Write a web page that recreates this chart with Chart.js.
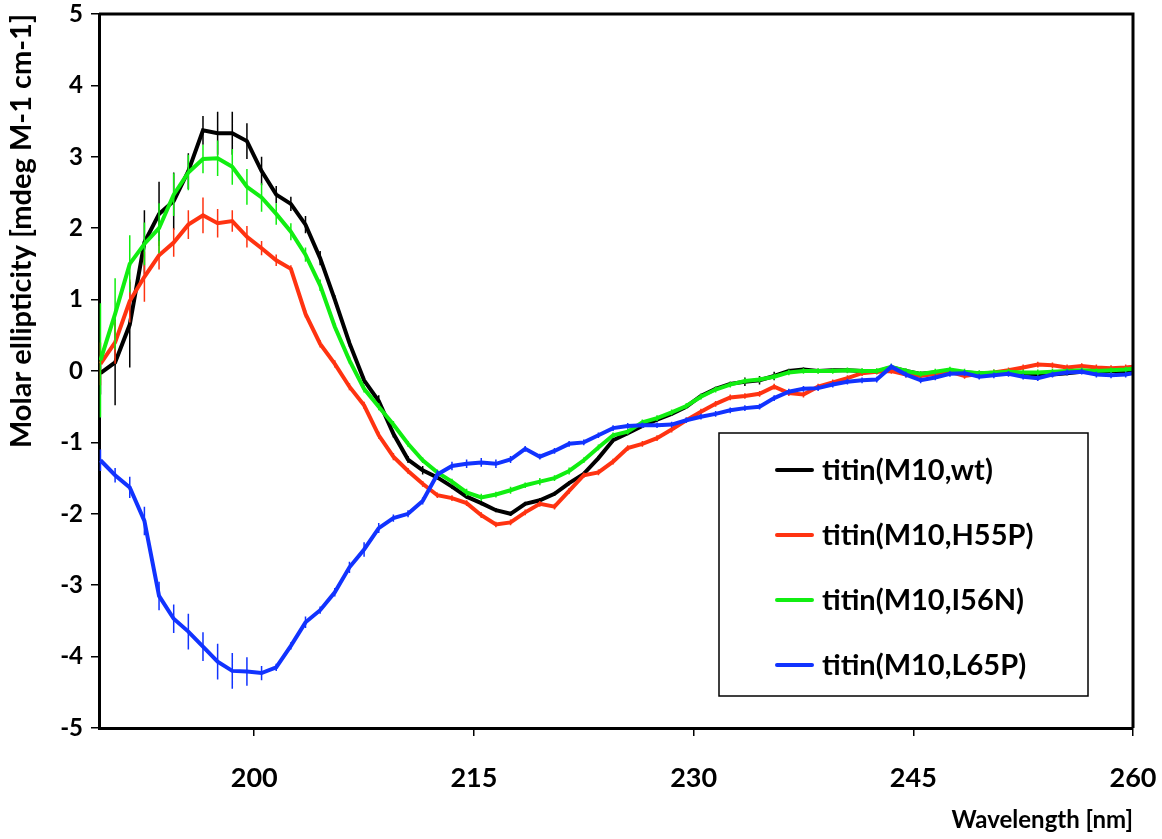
<!DOCTYPE html>
<html><head><meta charset="utf-8">
<script src="https://cdn.jsdelivr.net/npm/chart.js@4/dist/chart.umd.min.js"></script>
<style>html,body{margin:0;padding:0;background:#fff}canvas{display:block}</style>
</head><body>
<canvas id="c" width="1162" height="839"></canvas>
<script>
// ---- data ----
const wavelengths = [189.5,190.5,191.5,192.5,193.5,194.5,195.5,196.5,197.5,198.5,199.5,200.5,201.5,202.5,203.5,204.5,205.5,206.5,207.5,208.5,209.5,210.5,211.5,212.5,213.5,214.5,215.5,216.5,217.5,218.5,219.5,220.5,221.5,222.5,223.5,224.5,225.5,226.5,227.5,228.5,229.5,230.5,231.5,232.5,233.5,234.5,235.5,236.5,237.5,238.5,239.5,240.5,241.5,242.5,243.5,244.5,245.5,246.5,247.5,248.5,249.5,250.5,251.5,252.5,253.5,254.5,255.5,256.5,257.5,258.5,259.5,260];
const seriesLabels = ['titin(M10,wt)','titin(M10,H55P)','titin(M10,I56N)','titin(M10,L65P)'];
const wt = [-0.03,0.12,0.65,1.8,2.2,2.38,2.8,3.37,3.33,3.33,3.22,2.8,2.47,2.34,2.05,1.58,1.0,0.39,-0.13,-0.42,-0.88,-1.24,-1.39,-1.49,-1.62,-1.76,-1.85,-1.95,-2.0,-1.86,-1.81,-1.72,-1.57,-1.44,-1.22,-0.97,-0.87,-0.77,-0.68,-0.6,-0.5,-0.35,-0.25,-0.18,-0.15,-0.13,-0.07,0.0,0.02,0.0,0.01,0.01,0.0,-0.01,0.05,0.0,-0.04,-0.02,0.0,-0.02,-0.03,-0.03,-0.02,-0.03,-0.05,-0.05,-0.03,-0.01,0.0,0.0,0.0,0.0];
const h55p = [0.1,0.4,0.98,1.32,1.62,1.8,2.05,2.18,2.07,2.1,1.88,1.72,1.55,1.43,0.8,0.38,0.1,-0.22,-0.48,-0.9,-1.2,-1.4,-1.58,-1.74,-1.78,-1.85,-2.02,-2.15,-2.12,-1.98,-1.86,-1.9,-1.68,-1.46,-1.42,-1.27,-1.08,-1.02,-0.94,-0.82,-0.69,-0.57,-0.46,-0.37,-0.35,-0.32,-0.22,-0.31,-0.33,-0.22,-0.16,-0.1,-0.03,-0.01,0.0,-0.05,-0.07,-0.04,-0.01,-0.07,-0.04,-0.02,0.01,0.05,0.09,0.08,0.05,0.07,0.05,0.04,0.05,0.06];
const i56n = [0.15,0.8,1.5,1.78,2.0,2.47,2.78,2.97,2.98,2.86,2.58,2.43,2.2,1.95,1.63,1.2,0.62,0.15,-0.25,-0.5,-0.75,-1.02,-1.25,-1.42,-1.55,-1.7,-1.77,-1.73,-1.67,-1.6,-1.55,-1.5,-1.4,-1.25,-1.07,-0.9,-0.85,-0.72,-0.66,-0.58,-0.49,-0.36,-0.26,-0.19,-0.14,-0.12,-0.08,-0.02,0.0,0.0,0.0,0.01,0.0,0.0,0.06,0.0,-0.04,-0.01,0.02,-0.01,-0.03,-0.02,-0.01,-0.02,-0.02,-0.01,0.0,0.01,0.0,0.01,0.02,0.03];
const l65p = [-1.25,-1.46,-1.63,-2.1,-3.15,-3.47,-3.65,-3.86,-4.07,-4.2,-4.21,-4.23,-4.15,-3.85,-3.52,-3.35,-3.1,-2.75,-2.5,-2.2,-2.06,-2.0,-1.82,-1.45,-1.33,-1.3,-1.28,-1.3,-1.24,-1.09,-1.2,-1.12,-1.02,-1.0,-0.9,-0.8,-0.77,-0.76,-0.76,-0.75,-0.69,-0.64,-0.6,-0.55,-0.52,-0.5,-0.38,-0.29,-0.25,-0.24,-0.19,-0.15,-0.13,-0.12,0.06,-0.05,-0.13,-0.09,-0.04,-0.03,-0.08,-0.06,-0.04,-0.08,-0.1,-0.05,-0.02,-0.01,-0.05,-0.06,-0.05,-0.03];
const wtErr = [0.3,0.6,0.6,0.45,0.45,0.4,0.25,0.2,0.3,0.3,0.25,0.2,0.12,0.1,0.12,0.1,0.06,0.05,0.05,0.08,0.05,0.05,0.06,0.03,0.03,0.03,0.03,0.03,0.03,0.03,0.03,0.03,0.03,0.03,0.03,0.03,0.03,0.03,0.03,0.03,0.03,0.03,0.03,0.03,0.06,0.06,0.06,0.03,0.03,0.03,0.03,0.03,0.03,0.03,0.03,0.03,0.03,0.03,0.03,0.03,0.03,0.03,0.03,0.03,0.03,0.03,0.03,0.03,0.03,0.03,0.03,0.03];
const h55pErr = [0.3,0.3,0.3,0.35,0.2,0.2,0.2,0.25,0.2,0.15,0.15,0.1,0.08,0.05,0.05,0.05,0.05,0.05,0.05,0.05,0.05,0.04,0.04,0.04,0.04,0.04,0.04,0.04,0.04,0.04,0.04,0.04,0.04,0.04,0.04,0.04,0.04,0.04,0.04,0.04,0.04,0.04,0.04,0.04,0.04,0.04,0.04,0.04,0.04,0.04,0.04,0.04,0.04,0.04,0.04,0.04,0.04,0.04,0.04,0.04,0.04,0.04,0.04,0.04,0.04,0.04,0.04,0.04,0.04,0.04,0.04,0.04];
const i56nErr = [0.8,0.5,0.4,0.3,0.35,0.3,0.25,0.2,0.25,0.25,0.25,0.2,0.15,0.12,0.1,0.08,0.05,0.05,0.05,0.05,0.05,0.04,0.04,0.04,0.04,0.05,0.05,0.04,0.05,0.04,0.05,0.04,0.05,0.04,0.04,0.04,0.04,0.04,0.04,0.04,0.04,0.04,0.04,0.04,0.04,0.04,0.04,0.04,0.04,0.04,0.04,0.04,0.04,0.04,0.04,0.04,0.04,0.04,0.04,0.04,0.04,0.04,0.04,0.04,0.04,0.04,0.04,0.04,0.04,0.04,0.04,0.04];
const l65pErr = [0.15,0.1,0.15,0.2,0.2,0.2,0.25,0.2,0.25,0.25,0.2,0.1,0.05,0.05,0.08,0.05,0.06,0.08,0.1,0.07,0.05,0.05,0.05,0.06,0.06,0.06,0.06,0.06,0.05,0.04,0.04,0.04,0.04,0.04,0.04,0.04,0.04,0.04,0.04,0.04,0.04,0.04,0.04,0.04,0.04,0.04,0.04,0.04,0.04,0.04,0.04,0.04,0.04,0.04,0.04,0.04,0.04,0.04,0.04,0.04,0.04,0.04,0.04,0.04,0.04,0.04,0.04,0.04,0.04,0.04,0.04,0.04];
const xTicks = [200,215,230,245,260];
const yMin = -5, yMax = 5, yStep = 1;
const xMin = 189.4, xMax = 260;
const xTitle = 'Wavelength [nm]';
const yTitle = 'Molar ellipticity [mdeg M-1 cm-1]';

// ---- styles ----
const colors = ['#000000','#ff3311','#11ee11','#1133ff'];
const drawOrder = [4,3,2,1];
const FONT = 'Lato, "Open Sans", sans-serif';

const valueSets = [wt,h55p,i56n,l65p];
const errSets = [wtErr,h55pErr,i56nErr,l65pErr];

const datasets = valueSets.map((vals,k)=>({
  label: seriesLabels[k],
  data: wavelengths.map((x,i)=>({x:x,y:vals[i]})),
  errors: errSets[k],
  borderColor: colors[k],
  backgroundColor: colors[k],
  borderWidth: 4,
  pointRadius: 0,
  tension: 0,
  fill: false,
  order: drawOrder[k]
}));

const errorBarPlugin = {
  id: 'errorBars',
  afterDatasetDraw(chart, args) {
    const ds = chart.data.datasets[args.index];
    if (!ds.errors) return;
    const ctx = chart.ctx, ys = chart.scales.y, a = chart.chartArea;
    ctx.save();
    ctx.beginPath(); ctx.rect(a.left, a.top, a.right-a.left, a.bottom-a.top); ctx.clip();
    ctx.strokeStyle = ds.borderColor; ctx.lineWidth = 1.5;
    ctx.beginPath();
    args.meta.data.forEach((pt,i)=>{
      const v = ds.data[i].y, e = ds.errors[i];
      ctx.moveTo(pt.x, ys.getPixelForValue(v+e));
      ctx.lineTo(pt.x, ys.getPixelForValue(v-e));
    });
    ctx.stroke();
    ctx.restore();
  }
};

const framePlugin = {
  id: 'frame',
  afterDraw(chart) {
    const ctx = chart.ctx, a = chart.chartArea;
    ctx.save();
    ctx.strokeStyle = '#000'; ctx.lineWidth = 3;
    ctx.beginPath();
    ctx.moveTo(a.left, a.top); ctx.lineTo(a.right, a.top); ctx.lineTo(a.right, a.bottom);
    ctx.stroke();
    ctx.restore();
  }
};

const legendBoxPlugin = {
  id: 'legendBox',
  afterDraw(chart) {
    const ctx = chart.ctx, a = chart.chartArea;
    const bx = a.left + 620, by = a.top + 419, bw = 369, bh = 263;
    ctx.save();
    ctx.fillStyle = '#fff'; ctx.fillRect(bx, by, bw, bh);
    ctx.strokeStyle = '#000'; ctx.lineWidth = 1.5; ctx.strokeRect(bx, by, bw, bh);
    ctx.font = 'bold 29px ' + FONT;
    ctx.textBaseline = 'middle'; ctx.textAlign = 'left';
    chart.data.datasets.forEach((ds,i)=>{
      const y = by + 37 + i*65;
      ctx.strokeStyle = ds.borderColor; ctx.lineWidth = 4; ctx.lineCap = 'round';
      ctx.beginPath(); ctx.moveTo(bx+58, y); ctx.lineTo(bx+93, y); ctx.stroke();
      ctx.fillStyle = '#000';
      ctx.fillText(ds.label, bx+103, y+1);
    });
    ctx.restore();
  }
};

function draw(){
  new Chart(document.getElementById('c'), {
    type: 'line',
    data: { datasets: datasets },
    options: {
      responsive: false,
      animation: false,
      layout: { padding: { top: 14, right: 29, left: 0, bottom: 0 } },
      plugins: { legend: { display: false }, tooltip: { enabled: false } },
      scales: {
        x: {
          type: 'linear', min: xMin, max: xMax,
          afterBuildTicks: s => { s.ticks = xTicks.map(v=>({value:v})); },
          afterFit: s => { s.height = 111; s.paddingLeft = 0; s.paddingRight = 0; },
          ticks: { color:'#000', font:{family:FONT, weight:'bold', size:27}, padding: 26, maxRotation:0, autoSkip:false },
          grid: { drawOnChartArea:false, drawTicks:true, tickLength:8, color:'#000', lineWidth:1.5 },
          border: { display:true, color:'#000', width:3 },
          title: { display:true, text:xTitle, align:'end', color:'#000', font:{family:FONT, weight:'bold', size:24}, padding:{top:0,bottom:4} }
        },
        y: {
          type: 'linear', min: yMin, max: yMax,
          afterFit: s => { s.width = 99; s.paddingTop = 0; s.paddingBottom = 0; },
          ticks: { stepSize: yStep, color:'#000', font:{family:FONT, weight:'bold', size:24}, padding: 8 },
          grid: { drawOnChartArea:false, drawTicks:true, tickLength:8, color:'#000', lineWidth:1.5 },
          border: { display:true, color:'#000', width:3 },
          title: { display:true, text:yTitle, align:'end', color:'#000', font:{family:FONT, weight:'bold', size:29}, padding:{top:4,bottom:0} }
        }
      }
    },
    plugins: [errorBarPlugin, framePlugin, legendBoxPlugin]
  });
}
if (document.fonts && document.fonts.load) {
  Promise.all([document.fonts.load('bold 24px Lato')]).then(draw, draw);
} else { draw(); }
</script>
</body></html>
